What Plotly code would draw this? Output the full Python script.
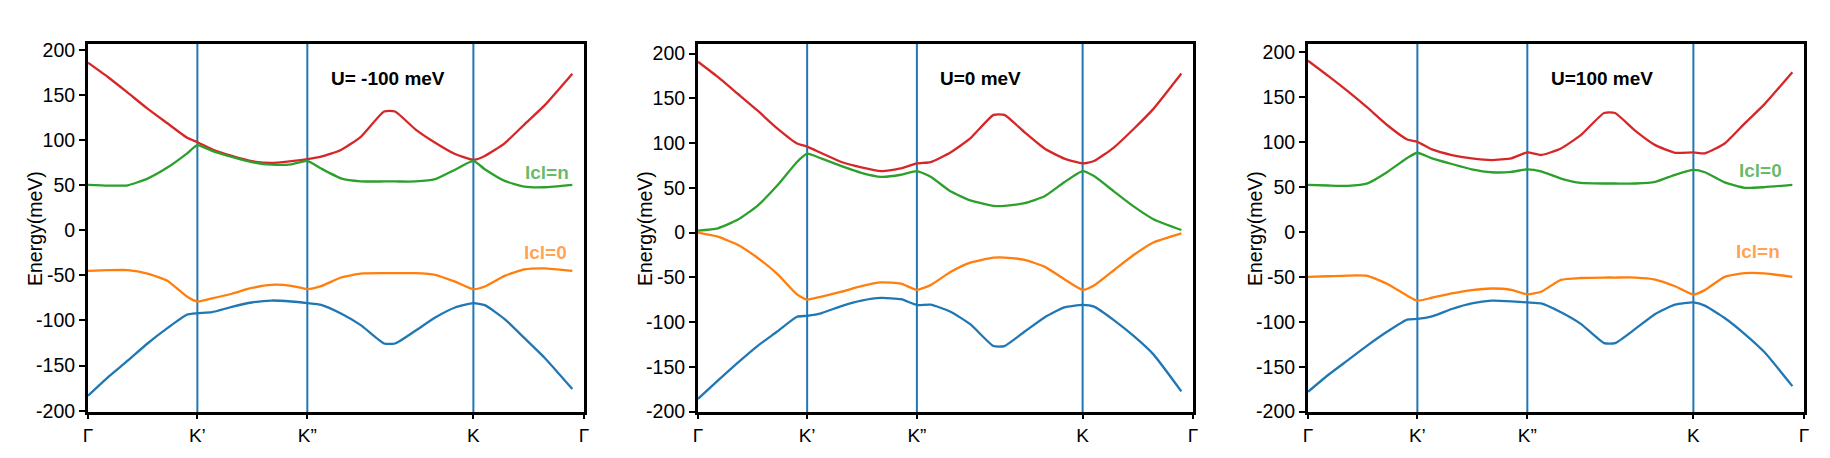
import plotly.graph_objects as go

# k-path coordinate (fraction of path) and high-symmetry points
k_path = [0, 0.04, 0.08, 0.12, 0.16, 0.20, 0.2205, 0.25, 0.29, 0.33, 0.37, 0.41, 0.4422,
          0.47, 0.51, 0.55, 0.597, 0.619, 0.66, 0.70, 0.74, 0.777, 0.80, 0.84, 0.88, 0.92, 0.9765]
sym_pos = [0, 0.2205, 0.4422, 0.777, 1.0]
sym_labels = ["Γ", "K’", "K”", "K", "Γ"]
vline_pos = [0.2205, 0.4422, 0.777]

y_tickvals = [-200, -150, -100, -50, 0, 50, 100, 150, 200]
y_ticktext = ["-200", "-150", "-100", "-50", "0", "50", "100", "150", "200"]

panel_titles = ["U= -100 meV", "U=0 meV", "U=100 meV"]

# Panel 1: U = -100 meV
red_1 = [185.6, 169.7, 152.4, 134.7, 118.5, 102.4, 97.5, 89.7, 82.3, 76.5, 74.5, 76.6, 78.8, 81.5, 88.9,
         103.5, 131.5, 131.5, 111.8, 97, 84.5, 77.9, 82.3, 96.3, 117.3, 138, 173.4]
green_1 = [50.2, 49.4, 49.8, 57.2, 69.4, 85.2, 94.2, 87.8, 81.2, 75.5, 72.6, 73, 76.8, 68.3, 57.5,
           54.2, 54, 54, 54, 56.5, 67, 76.8, 67.5, 54.6, 48.3, 47.6, 50.2]
orange_1 = [-45, -44.3, -44.2, -48, -56, -73.8, -79, -75.6, -70.4, -64, -60.5, -61.6, -65.3, -62, -52.4,
            -48, -47.6, -47.6, -47.6, -49.4, -57, -65.3, -62.4, -50.6, -43.5, -42.3, -45]
blue_1 = [-183.4, -163, -144.6, -125.5, -108.5, -93.4, -91.9, -90.8, -84.9, -80.1, -77.9, -79, -80.8,
          -82.7, -92.3, -105.2, -125.5, -125.5, -111.4, -96.7, -85.6, -80.8, -83, -98.5, -119.6, -141, -176]

# Panel 2: U = 0 meV
red_2 = [191, 174, 155.3, 136.5, 116.5, 99.6, 96.2, 88.7, 78.9, 72.9, 68.8, 71.8, 77.4, 78.9, 89.5,
         105.3, 131.6, 131.6, 112, 94, 82.7, 77.4, 80, 95.1, 115.8, 138.3, 177.8]
green_2 = [2.3, 4.9, 14.3, 30, 52.6, 79, 88.3, 82.7, 74.4, 66.9, 62.4, 64.7, 68.8, 62.4, 46.2,
           36.1, 30, 30, 33, 40.6, 56.4, 68.8, 63.2, 46.2, 29.3, 15, 3]
orange_2 = [0, -4.5, -13.5, -28, -46, -69, -74.8, -71.4, -66, -59.8, -55.6, -57, -63.9, -58.6, -44,
            -33.5, -28, -27.8, -30.5, -38, -52, -63.9, -59, -42, -25, -11, -0.8]
blue_2 = [-185.7, -165.4, -145.5, -126.7, -110.5, -94, -92.9, -89.8, -82, -75.9, -72.9, -74.4, -80.8,
          -80.5, -88.3, -102.3, -126.7, -126.7, -110.5, -94.7, -83.5, -80.8, -82.7, -97.7, -115.4, -136, -177.4]

# Panel 3: U = 100 meV
red_3 = [190.4, 173.8, 156.5, 138.1, 118.6, 102.8, 100.2, 91.7, 85.5, 81.8, 79.9, 81.8, 88.4, 85.5, 92.8,
         107.6, 132.2, 132.2, 112.3, 96.5, 88, 88.4, 87.3, 98.3, 120.4, 141.8, 177.5]
green_3 = [52.3, 51.6, 51.2, 54, 66.7, 82.2, 88, 81.8, 75.5, 69.6, 66.3, 66.7, 69.6, 67.4, 59.3,
           54.5, 53.8, 53.8, 53.8, 55.6, 63.5, 68.9, 66.3, 55, 49, 49.7, 52.3]
orange_3 = [-50.1, -49.4, -48.6, -49, -58, -71, -76.6, -73.3, -68.5, -64.8, -63, -64.5, -69.6, -66.6, -53.4,
            -51.3, -50.8, -50.8, -50.8, -53, -60.5, -69.6, -64.8, -50, -46, -46.2, -50.1]
blue_3 = [-177.9, -159.5, -142.9, -126.3, -110.9, -97.6, -96.9, -93.9, -85.8, -79.6, -76.6, -77.3, -78.5,
          -79.6, -89.5, -102.4, -123.8, -123.8, -107.9, -91.3, -81, -78.5, -82.1, -95.8, -113.4, -133.7, -171.6]

bands = [
    [red_1, green_1, orange_1, blue_1],
    [red_2, green_2, orange_2, blue_2],
    [red_3, green_3, orange_3, blue_3],
]
band_colors = ["#d62728", "#2ca02c", "#ff7f0e", "#1f77b4"]

# band labels: (text, x, y, color) per panel
band_labels = [
    [("Icl=n", 0.974, 64, "rgba(44,160,44,0.72)"), ("Icl=0", 0.970, -24.7, "rgba(255,127,14,0.72)")],
    [],
    [("Icl=0", 0.960, 68, "rgba(44,160,44,0.72)"), ("Icl=n", 0.955, -21.7, "rgba(255,127,14,0.72)")],
]

y_ranges = [[-201.4, 206.3], [-200.4, 210.8], [-200.4, 209]]
x_domains = [[80 / 1830, 576 / 1830], [690 / 1830, 1185 / 1830], [1300 / 1830, 1796 / 1830]]
y_domain = [(458 - 404) / 458, (458 - 36) / 458]

FONT = "Liberation Sans, Arial, Helvetica, sans-serif"

fig = go.Figure()
layout = dict(
    width=1830, height=458, autosize=False,
    margin=dict(l=0, r=0, t=0, b=0),
    paper_bgcolor="white", plot_bgcolor="white",
    showlegend=False,
    font=dict(family=FONT, color="black", size=18),
)
shapes = []
annotations = []

for i in range(3):
    n = "" if i == 0 else str(i + 1)
    xa, ya = "x" + n, "y" + n
    for vals, col in zip(bands[i], band_colors):
        fig.add_trace(go.Scatter(x=k_path, y=vals, mode="lines", xaxis=xa, yaxis=ya,
                                 line=dict(color=col, width=2.3, shape="spline", smoothing=0.5),
                                 hoverinfo="skip"))
    layout["xaxis" + n] = dict(
        domain=x_domains[i], range=[0, 1], anchor=ya, automargin=False,
        showgrid=False, zeroline=False,
        showline=True, linecolor="black", linewidth=3, mirror=True,
        ticks="outside", ticklen=4, tickwidth=1.5, tickcolor="black",
        tickvals=sym_pos, ticktext=sym_labels,
        tickfont=dict(size=19, family=FONT, color="black"),
    )
    layout["yaxis" + n] = dict(
        domain=y_domain, range=y_ranges[i], anchor=xa, automargin=False,
        showgrid=False, zeroline=False,
        showline=True, linecolor="black", linewidth=3, mirror=True,
        ticks="outside", ticklen=6, tickwidth=1.5, tickcolor="black",
        tickvals=y_tickvals, ticktext=y_ticktext,
        tickfont=dict(size=19.5, family=FONT, color="black"),
    )
    annotations.append(dict(text="Energy(meV)", xref=xa + " domain", yref="paper",
                            x=0, xshift=-53, y=(458 - 221) / 458, xanchor="center", yanchor="middle",
                            textangle=-90, showarrow=False,
                            font=dict(size=19.5, family=FONT, color="black")))
    for xv in vline_pos:
        shapes.append(dict(type="line", xref=xa, yref=ya + " domain", x0=xv, x1=xv, y0=0, y1=1,
                           line=dict(color="#1f77b4", width=2), layer="below"))
    annotations.append(dict(text="<b>" + panel_titles[i] + "</b>", xref=xa + " domain", yref="paper",
                            x=0.485, y=(458 - 70) / 458, xanchor="left", yanchor="middle",
                            showarrow=False, font=dict(size=19, family=FONT, color="black")))
    for txt, xv, yv, col in band_labels[i]:
        annotations.append(dict(text="<b>" + txt + "</b>", xref=xa, yref=ya, x=xv, y=yv,
                                xanchor="right", yanchor="middle", showarrow=False,
                                font=dict(size=19, family=FONT, color=col)))

layout["shapes"] = shapes
layout["annotations"] = annotations
fig.update_layout(**layout)
fig.write_html("out.html")
